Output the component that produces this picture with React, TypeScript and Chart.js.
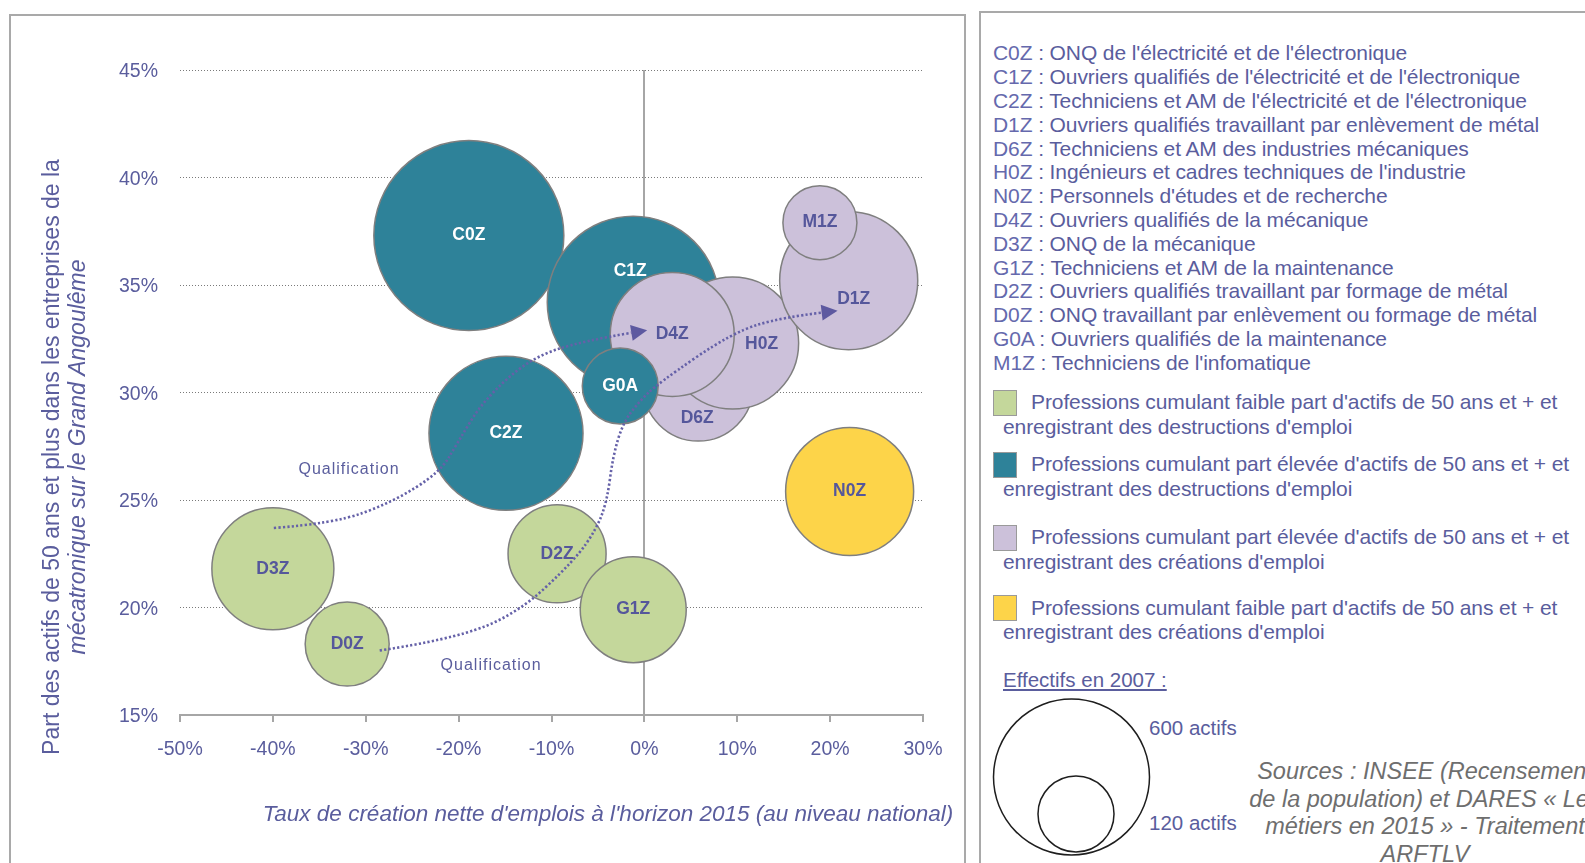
import React, { useEffect, useRef } from 'react';
import { Chart, registerables } from 'chart.js';

Chart.register(...registerables);

// ---------- DATA ----------
// Bubbles, listed in drawing order (later ones are drawn on top)
const codes = ['C0Z', 'C2Z', 'C1Z', 'D6Z', 'H0Z', 'D4Z', 'G0A', 'D1Z', 'M1Z', 'N0Z', 'D3Z', 'D0Z', 'D2Z', 'G1Z'];
// Taux de création nette d'emplois à l'horizon 2015 (%)
const tauxCreation = [-18.9, -14.9, -1.2, 5.8, 9.5, 3.0, -2.6, 22.0, 18.9, 22.1, -40.0, -32.0, -9.4, -1.2];
// Part des actifs de 50 ans et plus (%)
const partSeniors = [37.3, 28.1, 34.2, 30.3, 32.3, 32.7, 30.3, 35.2, 37.9, 25.4, 21.8, 18.3, 22.5, 19.9];
// Effectifs en 2007 (actifs)
const effectifs = [890, 585, 729, 298, 430, 379, 142, 470, 135, 404, 367, 174, 237, 277];
// Groupe : A = faible part / destructions, B = part élevée / destructions,
//          C = part élevée / créations, D = faible part / créations
const groupes = ['B', 'B', 'B', 'C', 'C', 'C', 'B', 'C', 'C', 'D', 'A', 'A', 'A', 'A'];

const xTicksMin = -50;
const xTicksMax = 30;
const xStep = 10;
const yTicksMin = 15;
const yTicksMax = 45;
const yStep = 5;

// "Qualification" arrows, in data units (taux %, part %)
const arrow1X = [-39.9, -33.5, -27.1, -22.0, -20.2, -17.4, -12.3, -6.6, 0.3];
const arrow1Y = [23.7, 23.9, 24.9, 26.3, 27.6, 29.6, 31.6, 32.4, 32.9];
const arrow2X = [-28.5, -20.9, -13.7, -7.5, -5.1, -4.0, -3.4, -2.3, -0.5, 1.4, 9.5, 14.9, 20.8];
const arrow2Y = [18.0, 18.5, 19.7, 22.2, 23.7, 25.0, 27.0, 28.6, 29.6, 30.4, 32.8, 33.5, 33.8];
const qualifLabelX = [-31.8, -16.5];
const qualifLabelY = [26.4, 17.3];

const legendCodes = ['C0Z', 'C1Z', 'C2Z', 'D1Z', 'D6Z', 'H0Z', 'N0Z', 'D4Z', 'D3Z', 'G1Z', 'D2Z', 'D0Z', 'G0A', 'M1Z'];
const legendLabels = [
  ": ONQ de l'électricité et de l'électronique",
  ': Ouvriers qualifiés de l\'électricité et de l\'électronique',
  ": Techniciens et AM de l'électricité et de l'électronique",
  ': Ouvriers qualifiés travaillant par enlèvement de métal',
  ': Techniciens et AM des industries mécaniques',
  ": Ingénieurs et cadres techniques de l'industrie",
  ": Personnels d'études et de recherche",
  ': Ouvriers qualifiés de la mécanique',
  ': ONQ de la mécanique',
  ': Techniciens et AM de la maintenance',
  ': Ouvriers qualifiés travaillant par formage de métal',
  ': ONQ travaillant par enlèvement ou formage de métal',
  ':  Ouvriers qualifiés de la maintenance',
  ":  Techniciens de l'infomatique",
];
const groupKeys = ['A', 'B', 'C', 'D'];
const groupLine1 = [
  "Professions cumulant faible part d'actifs de 50 ans et + et",
  "Professions cumulant part élevée d'actifs de 50 ans et + et",
  "Professions cumulant part élevée d'actifs de 50 ans et + et",
  "Professions cumulant faible part d'actifs de 50 ans et + et",
];
const groupLine2 = [
  "enregistrant des destructions d'emploi",
  "enregistrant des destructions d'emploi",
  "enregistrant des créations d'emploi",
  "enregistrant des créations d'emploi",
];
const sizeLegendValues = [600, 120];

// ---------- STYLE ----------
const FONT = '"Liberation Sans", Arial, Helvetica, sans-serif';
const TEXT = '#5a5d9d';
const groupColors: Record<string, string> = {
  A: '#c4d79b',
  B: '#2e8299',
  C: '#ccc1da',
  D: '#fdd449',
};
const R600 = 78; // bubble radius (px) for 600 actifs
const radiusFor = (eff: number) => R600 * Math.sqrt(eff / 600);
const labelOffsets: Record<string, [number, number]> = {
  C1Z: [-3, -31],
  H0Z: [29, 1],
  D6Z: [-1, 32],
  D1Z: [5, 18],
};
const ARROW = '#6561a8';

const overlayPlugin = {
  id: 'overlay',
  afterDatasetsDraw(chart: any) {
    const ctx = chart.ctx as CanvasRenderingContext2D;
    const xs = chart.scales.x;
    const ys = chart.scales.y;

    // arrows
    const drawArrow = (ax: number[], ay: number[]) => {
      const pts = ax.map((v, i) => ({ x: xs.getPixelForValue(v), y: ys.getPixelForValue(ay[i]) }));
      const last = pts[pts.length - 1];
      const prev = pts[pts.length - 2];
      const ang = Math.atan2(last.y - prev.y, last.x - prev.x);
      const headLen = 16;
      const baseX = last.x - headLen * Math.cos(ang);
      const baseY = last.y - headLen * Math.sin(ang);
      ctx.save();
      ctx.strokeStyle = ARROW;
      ctx.lineWidth = 2.6;
      ctx.setLineDash([2.2, 2.2]);
      ctx.beginPath();
      ctx.moveTo(pts[0].x, pts[0].y);
      for (let i = 1; i < pts.length - 2; i++) {
        const mx = (pts[i].x + pts[i + 1].x) / 2;
        const my = (pts[i].y + pts[i + 1].y) / 2;
        ctx.quadraticCurveTo(pts[i].x, pts[i].y, mx, my);
      }
      ctx.quadraticCurveTo(prev.x, prev.y, baseX, baseY);
      ctx.stroke();
      ctx.setLineDash([]);
      ctx.fillStyle = '#5d59a0';
      ctx.beginPath();
      ctx.moveTo(last.x, last.y);
      ctx.lineTo(baseX + 8 * Math.sin(ang), baseY - 8 * Math.cos(ang));
      ctx.lineTo(baseX - 8 * Math.sin(ang), baseY + 8 * Math.cos(ang));
      ctx.closePath();
      ctx.fill();
      ctx.restore();
    };
    drawArrow(arrow1X, arrow1Y);
    drawArrow(arrow2X, arrow2Y);

    // bubble labels
    const meta = chart.getDatasetMeta(0);
    ctx.save();
    ctx.font = `bold 17.5px ${FONT}`;
    ctx.textAlign = 'center';
    ctx.textBaseline = 'middle';
    meta.data.forEach((el: any, i: number) => {
      const off = labelOffsets[codes[i]] || [0, 0];
      ctx.fillStyle = groupes[i] === 'B' ? '#ffffff' : '#55579b';
      ctx.fillText(codes[i], el.x + off[0], el.y + off[1]);
    });
    ctx.restore();

    // "Qualification" labels
    ctx.save();
    ctx.font = `16px ${FONT}`;
    (ctx as any).letterSpacing = '1px';
    ctx.fillStyle = TEXT;
    ctx.textAlign = 'center';
    ctx.textBaseline = 'middle';
    qualifLabelX.forEach((v, i) => {
      ctx.fillText('Qualification', xs.getPixelForValue(v), ys.getPixelForValue(qualifLabelY[i]));
    });
    ctx.restore();
  },
  afterDraw(chart: any) {
    const ctx = chart.ctx as CanvasRenderingContext2D;
    // Y axis title (two lines)
    ctx.save();
    ctx.fillStyle = TEXT;
    ctx.textAlign = 'center';
    ctx.textBaseline = 'middle';
    ctx.translate(41, 440);
    ctx.rotate(-Math.PI / 2);
    ctx.font = `23px ${FONT}`;
    ctx.fillText('Part des actifs de 50 ans et plus dans les entreprises de la', 0, 0);
    ctx.font = `italic 23px ${FONT}`;
    ctx.fillText('mécatronique sur le Grand Angoulême', 0, 26);
    ctx.restore();
    // X axis title
    ctx.save();
    ctx.fillStyle = TEXT;
    ctx.textAlign = 'center';
    ctx.textBaseline = 'middle';
    ctx.font = `italic 22.5px ${FONT}`;
    ctx.fillText("Taux de création nette d'emplois à l'horizon 2015 (au niveau national)", 596, 798);
    ctx.restore();
  },
};

function BubbleChart() {
  const ref = useRef<HTMLCanvasElement | null>(null);
  useEffect(() => {
    if (!ref.current) return;
    const chart = new Chart(ref.current, {
      type: 'bubble',
      data: {
        datasets: [
          {
            data: codes.map((c, i) => ({ x: tauxCreation[i], y: partSeniors[i], r: radiusFor(effectifs[i]) })),
            backgroundColor: groupes.map((g) => groupColors[g]),
            borderColor: '#7f7f7f',
            borderWidth: 1.5,
            hoverBorderWidth: 1.5,
            clip: false as any,
          },
        ],
      },
      options: {
        animation: false,
        responsive: false,
        events: [],
        layout: { autoPadding: false, padding: { top: 53, right: 39, left: 0, bottom: 0 } },
        plugins: { legend: { display: false }, tooltip: { enabled: false } },
        scales: {
          x: {
            type: 'linear',
            min: xTicksMin,
            max: xTicksMax,
            ticks: {
              stepSize: xStep,
              callback: (v: any) => `${v}%`,
              color: TEXT,
              font: { family: FONT, size: 19.5 },
              padding: 16,
              maxRotation: 0,
              autoSkip: false,
            },
            grid: {
              color: (c: any) => (c.tick && c.tick.value === 0 ? '#a6a6a6' : 'rgba(0,0,0,0)'),
              lineWidth: 2,
              drawTicks: true,
              tickLength: 7,
              tickColor: '#a6a6a6',
              tickWidth: 2,
            },
            border: { display: true, color: '#a6a6a6', width: 2 },
            afterFit: (s: any) => {
              s.height = 148;
            },
          },
          y: {
            type: 'linear',
            min: yTicksMin,
            max: yTicksMax,
            ticks: {
              stepSize: yStep,
              callback: (v: any) => `${v}%`,
              color: TEXT,
              font: { family: FONT, size: 19.5 },
              padding: 22,
              labelOffset: 2,
            },
            grid: {
              color: (c: any) => (c.tick && c.tick.value === yTicksMin ? 'rgba(0,0,0,0)' : '#7a7a7a'),
              lineWidth: 1,
              drawTicks: false,
              borderDash: [1, 2],
            } as any,
            border: { display: false, dash: [1, 2] },
            afterFit: (s: any) => {
              s.width = 168;
            },
          },
        },
      } as any,
      plugins: [overlayPlugin],
    });
    return () => chart.destroy();
  }, []);
  return (
    <canvas
      ref={ref}
      width={950}
      height={846}
      style={{ position: 'absolute', left: 12, top: 17, width: 950, height: 846 }}
    />
  );
}

export default function App() {
  const legendTop = 41.3;
  const legendLH = 23.8;
  const entryCenters = [402, 464, 537, 607.5];
  return (
    <div
      style={{
        position: 'fixed',
        left: 0,
        top: 0,
        width: 1585,
        height: 863,
        overflow: 'hidden',
        background: '#ffffff',
        fontFamily: FONT,
        color: TEXT,
      }}
    >
      <div
        style={{
          position: 'absolute',
          left: 9,
          top: 14,
          width: 953,
          height: 900,
          border: '2px solid #a9a9a9',
        }}
      />
      <BubbleChart />
      <div
        style={{
          position: 'absolute',
          left: 979,
          top: 11,
          width: 700,
          height: 900,
          border: '2px solid #a9a9a9',
        }}
      />
      {legendCodes.map((c, i) => (
        <div
          key={c}
          style={{
            position: 'absolute',
            left: 993,
            top: legendTop + i * legendLH,
            fontSize: 21,
            lineHeight: `${legendLH}px`,
            whiteSpace: 'nowrap',
            letterSpacing: -0.1,
          }}
        >
          <span style={{ color: '#6569ad' }}>{c}</span>
          <span> {legendLabels[i]}</span>
        </div>
      ))}
      {groupKeys.map((g, i) => (
        <React.Fragment key={g}>
          <div
            style={{
              position: 'absolute',
              left: 993,
              top: entryCenters[i] - 12.5,
              width: 22,
              height: 24,
              background: groupColors[g],
              border: '1px solid #9a9a9a',
            }}
          />
          <div
            style={{
              position: 'absolute',
              left: 1003,
              top: entryCenters[i] - 11.7,
              fontSize: 21,
              lineHeight: '24.6px',
              whiteSpace: 'nowrap',
              letterSpacing: -0.1,
            }}
          >
            <div style={{ paddingLeft: 28 }}>{groupLine1[i]}</div>
            <div>{groupLine2[i]}</div>
          </div>
        </React.Fragment>
      ))}
      <div
        style={{
          position: 'absolute',
          left: 1003,
          top: 679 - 11.5,
          fontSize: 20.5,
          lineHeight: '24px',
          textDecoration: 'underline',
          whiteSpace: 'nowrap',
        }}
      >
        Effectifs en 2007 :
      </div>
      <svg
        width={200}
        height={200}
        style={{ position: 'absolute', left: 980, top: 690 }}
        viewBox="980 690 200 200"
      >
        <circle cx={1071.5} cy={777} r={R600} fill="none" stroke="#1e1e1e" strokeWidth={1.5} />
        <circle cx={1076} cy={814} r={38} fill="none" stroke="#1e1e1e" strokeWidth={1.5} />
      </svg>
      {sizeLegendValues.map((v, i) => (
        <div
          key={v}
          style={{
            position: 'absolute',
            left: 1149,
            top: (i === 0 ? 727 : 822) - 11.5,
            fontSize: 20.5,
            lineHeight: '24px',
            whiteSpace: 'nowrap',
          }}
        >
          {v} actifs
        </div>
      ))}
      <div
        style={{
          position: 'absolute',
          left: 1175,
          top: 757.8,
          width: 500,
          textAlign: 'center',
          fontStyle: 'italic',
          fontSize: 23.5,
          lineHeight: '27.7px',
          color: '#6e6e6e',
          whiteSpace: 'nowrap',
        }}
      >
        <div>Sources : INSEE (Recensement</div>
        <div>de la population) et DARES « Les</div>
        <div>métiers en 2015 » - Traitement</div>
        <div>ARFTLV</div>
      </div>
    </div>
  );
}
